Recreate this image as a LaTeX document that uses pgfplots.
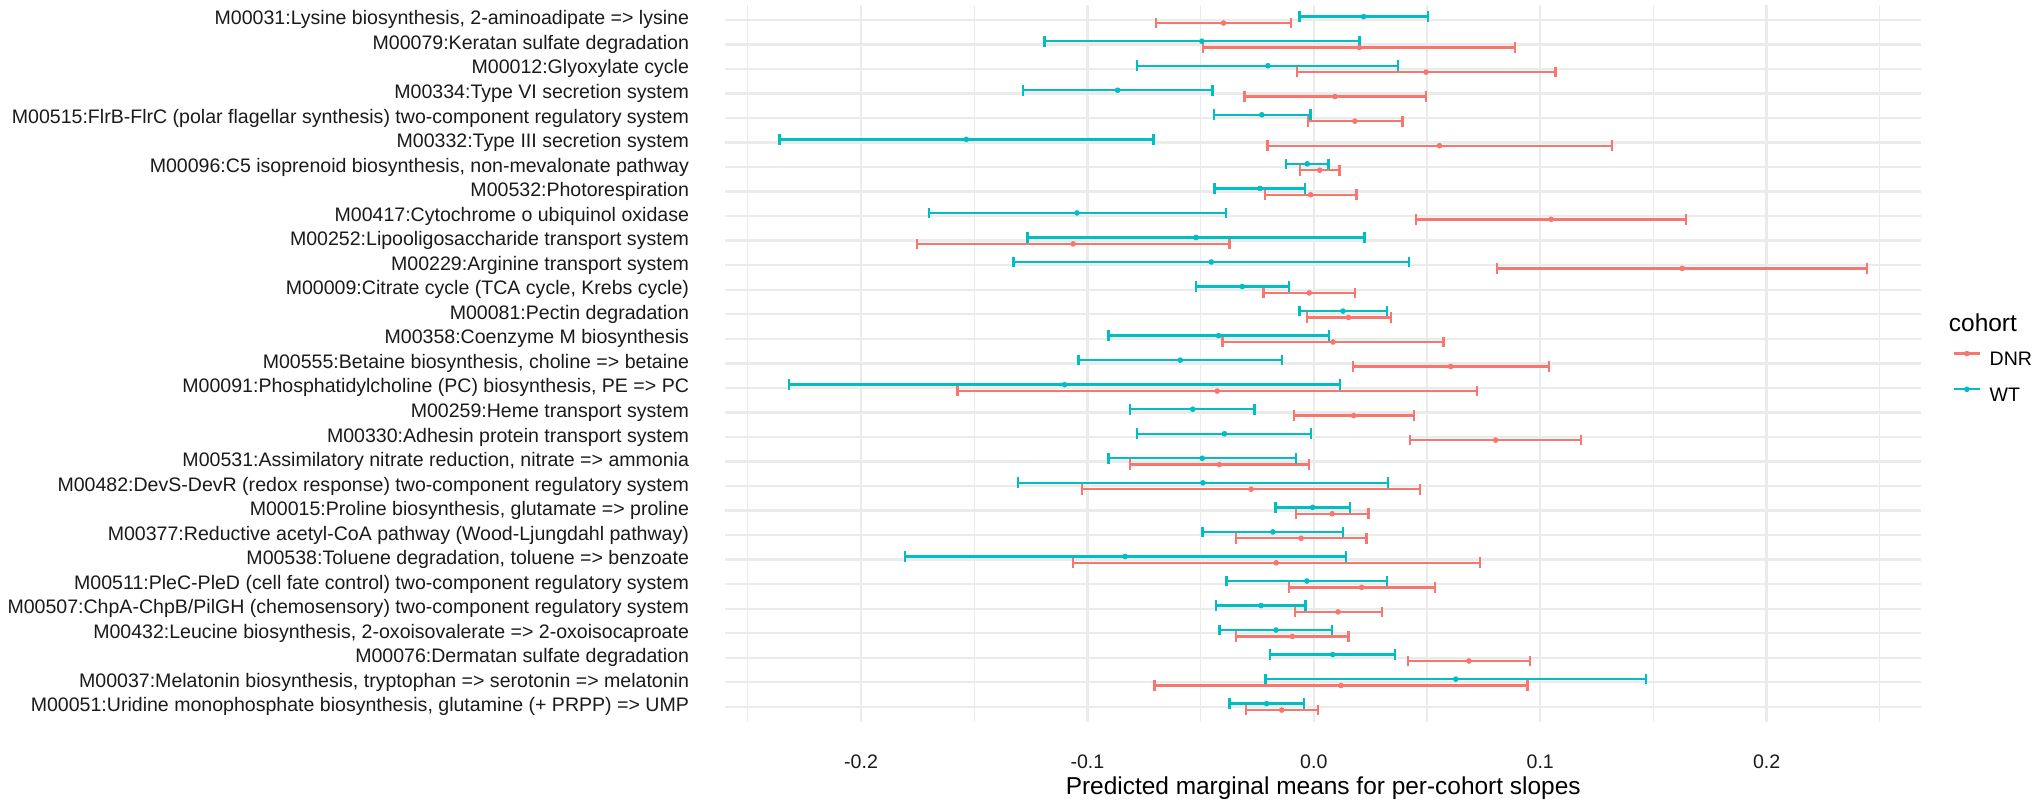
\documentclass[border=0pt]{standalone}
\usepackage{pgfplots}
\pgfplotsset{compat=1.18}
\usepackage{pgfplotstable}
\usepackage{fontspec}
\setmainfont{Liberation Sans}
\definecolor{dnr}{HTML}{F8766D}
\definecolor{wt}{HTML}{00BFC4}
\definecolor{grid92}{HTML}{EBEBEB}
\definecolor{axtext}{HTML}{1A1A1A}

% row: 29 = top category, 1 = bottom category
\pgfplotstableread{
row low mid high
29 -0.0698 -0.0399 -0.0100
28 -0.0490 0.0201 0.0889
27 -0.0074 0.0496 0.1067
26 -0.0307 0.0093 0.0495
25 -0.0027 0.0181 0.0391
24 -0.0204 0.0555 0.1317
23 -0.0061 0.0026 0.0114
22 -0.0216 -0.0014 0.0188
21 0.0452 0.1048 0.1643
20 -0.1752 -0.1063 -0.0372
19 0.0810 0.1627 0.2444
18 -0.0223 -0.0020 0.0181
17 -0.0030 0.0153 0.0342
16 -0.0404 0.0085 0.0572
15 0.0173 0.0604 0.1039
14 -0.1574 -0.0427 0.0720
13 -0.0088 0.0176 0.0442
12 0.0426 0.0803 0.1180
11 -0.0813 -0.0417 -0.0020
10 -0.1025 -0.0277 0.0470
9 -0.0079 0.0081 0.0241
8 -0.0343 -0.0056 0.0232
7 -0.1064 -0.0166 0.0734
6 -0.0110 0.0211 0.0535
5 -0.0083 0.0107 0.0301
4 -0.0343 -0.0095 0.0153
3 0.0417 0.0685 0.0954
2 -0.0704 0.0120 0.0944
1 -0.0301 -0.0142 0.0019
}\dnrdata

\pgfplotstableread{
row low mid high
29 -0.0064 0.0220 0.0505
28 -0.1189 -0.0495 0.0201
27 -0.0780 -0.0203 0.0373
26 -0.1285 -0.0867 -0.0448
25 -0.0441 -0.0230 -0.0014
24 -0.2361 -0.1535 -0.0708
23 -0.0122 -0.0029 0.0065
22 -0.0438 -0.0238 -0.0038
21 -0.1701 -0.1046 -0.0387
20 -0.1264 -0.0520 0.0224
19 -0.1326 -0.0453 0.0419
18 -0.0520 -0.0316 -0.0111
17 -0.0064 0.0129 0.0322
16 -0.0907 -0.0421 0.0067
15 -0.1039 -0.0590 -0.0142
14 -0.2319 -0.1101 0.0116
13 -0.0811 -0.0535 -0.0262
12 -0.0780 -0.0395 -0.0012
11 -0.0907 -0.0493 -0.0078
10 -0.1307 -0.0490 0.0327
9 -0.0169 -0.0005 0.0160
8 -0.0492 -0.0181 0.0130
7 -0.1807 -0.0833 0.0143
6 -0.0385 -0.0031 0.0324
5 -0.0431 -0.0233 -0.0036
4 -0.0416 -0.0167 0.0081
3 -0.0193 0.0083 0.0359
2 -0.0213 0.0627 0.1467
1 -0.0373 -0.0209 -0.0043
}\wtdata

\begin{document}
\begin{tikzpicture}
\path[use as bounding box] (0,0) rectangle (915.3pt,360pt);
\begin{axis}[
  at={(326.25pt,35.3pt)}, anchor=south west,
  scale only axis, width=538.4pt, height=322.4pt,
  xmin=-0.2601, xmax=0.2684, ymin=0.4, ymax=29.6,
  clip=false,
  axis line style={draw=none},
  tick style={draw=none}, major tick length=0pt, minor tick length=0pt,
  xtick={-0.2,-0.1,0,0.1,0.2},
  xticklabels={-0.2,-0.1,0.0,0.1,0.2},
  minor xtick={-0.25,-0.15,-0.05,0.05,0.15,0.25},
  ytick={1,...,29},
  yticklabels={
    {M00051:Uridine monophosphate biosynthesis, glutamine (+ PRPP) => UMP},
    {M00037:Melatonin biosynthesis, tryptophan => serotonin => melatonin},
    {M00076:Dermatan sulfate degradation},
    {M00432:Leucine biosynthesis, 2-oxoisovalerate => 2-oxoisocaproate},
    {M00507:ChpA-ChpB/PilGH (chemosensory) two-component regulatory system},
    {M00511:PleC-PleD (cell fate control) two-component regulatory system},
    {M00538:Toluene degradation, toluene => benzoate},
    {M00377:Reductive acetyl-CoA pathway (Wood-Ljungdahl pathway)},
    {M00015:Proline biosynthesis, glutamate => proline},
    {M00482:DevS-DevR (redox response) two-component regulatory system},
    {M00531:Assimilatory nitrate reduction, nitrate => ammonia},
    {M00330:Adhesin protein transport system},
    {M00259:Heme transport system},
    {M00091:Phosphatidylcholine (PC) biosynthesis, PE => PC},
    {M00555:Betaine biosynthesis, choline => betaine},
    {M00358:Coenzyme M biosynthesis},
    {M00081:Pectin degradation},
    {M00009:Citrate cycle (TCA cycle, Krebs cycle)},
    {M00229:Arginine transport system},
    {M00252:Lipooligosaccharide transport system},
    {M00417:Cytochrome o ubiquinol oxidase},
    {M00532:Photorespiration},
    {M00096:C5 isoprenoid biosynthesis, non-mevalonate pathway},
    {M00332:Type III secretion system},
    {M00515:FlrB-FlrC (polar flagellar synthesis) two-component regulatory system},
    {M00334:Type VI secretion system},
    {M00012:Glyoxylate cycle},
    {M00079:Keratan sulfate degradation},
    {M00031:Lysine biosynthesis, 2-aminoadipate => lysine}
  },
  xmajorgrids, xminorgrids, ymajorgrids,
  major grid style={grid92, line width=1.07pt},
  minor grid style={grid92, line width=0.53pt},
  xticklabel style={font=\fontsize{8.8}{10.5}\selectfont, text=axtext, anchor=center, inner sep=0pt, yshift=-18.1pt},
  yticklabel style={font=\fontsize{8.8}{10.5}\selectfont, text=axtext, anchor=east, inner sep=0pt, xshift=-16pt, text height=6.4pt, text depth=1.85pt},
  xlabel={Predicted marginal means for per-cohort slopes},
  xlabel style={at={(axis description cs:0.5,0)}, anchor=center, inner sep=0pt, yshift=-30.15pt, font=\fontsize{11}{13}\selectfont},
  legend style={draw=none, fill=none, at={(axis description cs:1.0259,0.5175)}, anchor=north west,
    inner sep=0pt, outer sep=0pt, row sep=7.9pt, column sep=3.8pt,
    nodes={inner sep=0pt, text=black}, font=\fontsize{8.8}{10.5}\selectfont},
  legend cell align=left,
  legend image code/.code={\draw[#1, line width=1.07pt] (0pt,3.15pt) -- (11.9pt,3.15pt); \fill[#1] (5.95pt,3.15pt) circle (1.05pt);},
]
\addplot[only marks, mark=*, mark size=1.05pt, color=dnr, forget plot,
  error bars/.cd, x dir=both, x explicit, error mark=|,
  error bar style={line width=1.07pt, color=dnr},
  error mark options={line width=1.07pt, mark size=2.4pt, color=dnr}]
  table[x=mid, y expr=\thisrow{row}-0.13,
        x error plus expr=\thisrow{high}-\thisrow{mid},
        x error minus expr=\thisrow{mid}-\thisrow{low}] {\dnrdata};
\addplot[only marks, mark=*, mark size=1.05pt, color=wt, forget plot,
  error bars/.cd, x dir=both, x explicit, error mark=|,
  error bar style={line width=1.07pt, color=wt},
  error mark options={line width=1.07pt, mark size=2.4pt, color=wt}]
  table[x=mid, y expr=\thisrow{row}+0.13,
        x error plus expr=\thisrow{high}-\thisrow{mid},
        x error minus expr=\thisrow{mid}-\thisrow{low}] {\wtdata};
\addlegendimage{color=dnr}
\addlegendentry{DNR}
\addlegendimage{color=wt}
\addlegendentry{WT}
\node[anchor=west, inner sep=0pt, font=\fontsize{11}{13}\selectfont] at (axis description cs:1.0226,0.5562) {cohort};
\end{axis}
\end{tikzpicture}
\end{document}
